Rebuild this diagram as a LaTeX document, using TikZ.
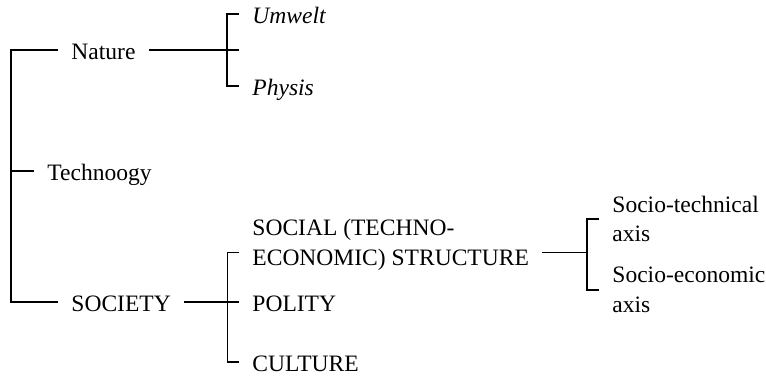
\documentclass[tikz,border=0pt]{standalone}
\usepackage{fontspec}
\setmainfont{Liberation Serif}
\usetikzlibrary{
	positioning
}

\begin{document}
\begin{tikzpicture}[
				x=0.51pt,
				y=-0.51pt,
				item/.style={
					anchor=west,
					inner xsep=6.7pt,
					inner ysep=0pt,
					font=\fontsize{12}{15}\selectfont
				},
				single/.style={
					item,
					text height=10pt,
					text depth=0pt
				},
				term/.style={
					single,
					font=\fontsize{12}{15}\selectfont\itshape
				},
				double/.style={
					item,
					align=left
				},
				link/.style={
					line width=0.55pt
				}
				]
				
				\useasboundingbox (0,0) rectangle (766,377);
				
				\node[single] (nature) at (57.9,50) {Nature};
				
				\node[single] (tech) at (33.9,171) {Technoogy};
				
				\node[single] (society) at (57.9,302) {SOCIETY};
				
				\node[term] (umwelt) at (238.9,14) {Umwelt};
				
				\node[term] (physis) at (238.9,86) {Physis};
				
				\node[double] (social) at (238.9,245) {
					SOCIAL (TECHNO-\\
					ECONOMIC) STRUCTURE
				};
				
				\node[single] (polity) at (238.9,302) {POLITY};
				
				\node[single] (culture) at (238.9,362) {CULTURE};
				
				\node[double] (sotech) at (598.9,219) {
					Socio-technical\\
					axis
				};
				
				\node[double] (soecon) at (598.9,290) {
					Socio-economic\\
					axis
				};
				
				\coordinate (trunk) at (11,171);
				\coordinate (forkA) at (227,50);
				\coordinate (forkB) at (227.5,302);
				\coordinate (forkC) at (587,254);
				
				\draw[link] (nature.west) -| (trunk) |- (society.west);
				\draw[link] (tech.west) -- (tech.west -| trunk);
				\draw[link] (nature.east) -- (nature.east -| umwelt.west);
				\draw[link] (umwelt.west) -| (forkA) |- (physis.west);
				\draw[link] (society.east) -- (polity.west);
				\draw[link] ([yshift=-3.6pt]social.west) -| (forkB) |- (culture.west);
				\draw[link] ([yshift=-3.6pt]social.east) -- ([yshift=-3.6pt]social.east -| forkC);
				\draw[link] (sotech.west) -| (forkC) |- (soecon.west);
				
			\end{tikzpicture}
\end{document}
